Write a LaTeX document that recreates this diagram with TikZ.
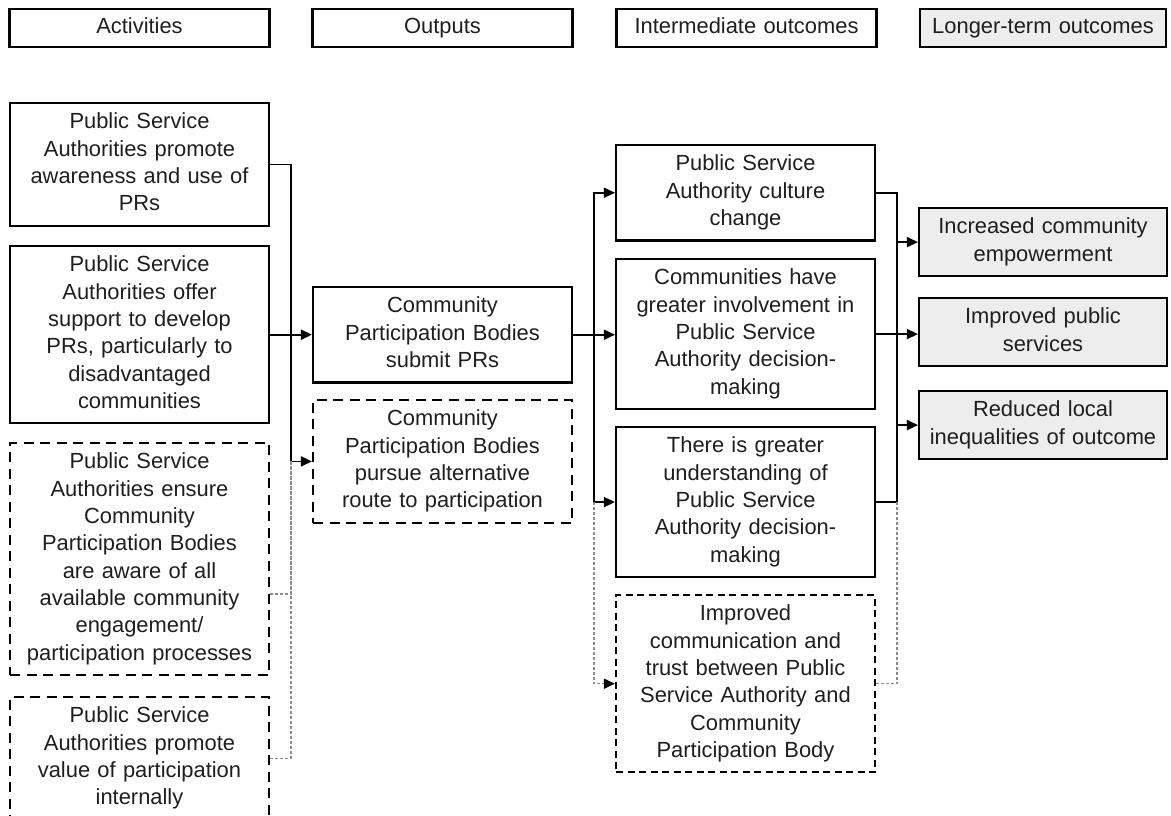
\documentclass[tikz,border=0pt]{standalone}
\usepackage{fontspec}
\setmainfont{Liberation Sans}
\usetikzlibrary{arrows.meta}
\definecolor{lgray}{HTML}{EDEDED}
\definecolor{dgray}{HTML}{8C8C8C}
\definecolor{txt}{HTML}{1E1E1E}
\tikzset{
  base/.style={draw=black, line width=2.1pt, anchor=north, align=center, text=txt,
    font=\fontsize{21.9pt}{27.3pt}\selectfont, inner xsep=4pt, inner ysep=6.75pt,
    execute at begin node=\strut, execute at end node=\strut},
  colbox/.style={base, text width=251pt},
  dbox/.style={colbox, dash pattern=on 10pt off 6.5pt},
  ibox/.style={colbox, dash pattern=on 7pt off 4.5pt},
  lbox/.style={base, text width=240pt, fill=lgray},
  hbox/.style={base, text width=252pt, inner ysep=5.35pt},
  conn/.style={draw=black, line width=1.8pt},
  arr/.style={conn, -{Triangle[length=11pt,width=10pt]}},
  gconn/.style={draw=dgray, line width=1.4pt, dash pattern=on 3pt off 2pt},
  garr/.style={gconn, -{Triangle[length=11pt,width=10pt,color=black]}}
}
\begin{document}
\begin{tikzpicture}[x=1pt,y=-1pt]
\useasboundingbox (0,0) rectangle (1171,816);
\clip (0,0) rectangle (1171,816);
% headers
\node[hbox] (hA) at (139.5,8) {Activities};
\node[hbox] (hO) at (442.5,8) {Outputs};
\node[hbox] (hI) at (746.5,8) {Intermediate outcomes};
\node[hbox, text width=238pt, fill=lgray] (hL) at (1043,8) {Longer-term outcomes};
% activities
\node[colbox] (A1) at (139.5,102) {Public Service\\Authorities promote\\awareness and use of\\PRs};
\node[colbox] (A2) at (139.5,245) {Public Service\\Authorities offer\\support to develop\\PRs, particularly to\\disadvantaged\\communities};
\node[dbox] (A3) at (139.5,442) {Public Service\\Authorities ensure\\Community\\Participation Bodies\\are aware of all\\available community\\engagement/\\participation processes};
\node[dbox] (A4) at (139.5,696) {Public Service\\Authorities promote\\value of participation\\internally};
% outputs
\node[colbox] (O1) at (442.5,286) {Community\\Participation Bodies\\submit PRs};
\node[dbox] (O2) at (442.5,399) {Community\\Participation Bodies\\pursue alternative\\route to participation};
% intermediate outcomes
\node[colbox] (I1) at (745.5,144) {Public Service\\Authority culture\\change};
\node[colbox] (I2) at (745.5,258) {Communities have\\greater involvement in\\Public Service\\Authority decision-\\making};
\node[colbox] (I3) at (745.5,426) {There is greater\\understanding of\\Public Service\\Authority decision-\\making};
\node[ibox] (I4) at (745.5,594) {Improved\\communication and\\trust between Public\\Service Authority and\\Community\\Participation Body};
% longer-term outcomes
\node[lbox] (L1) at (1043,207) {Increased community\\empowerment};
\node[lbox] (L2) at (1043,297) {Improved public\\services};
\node[lbox] (L3) at (1043,390) {Reduced local\\inequalities of outcome};
% spines
\coordinate (sA) at (291,0);
\coordinate (sI) at (594,0);
\coordinate (sL) at (897,0);
% activities -> outputs
\draw[arr] (A1.east) -| (sA |- O2.west) -- (O2.west);
\draw[arr] (A2.east) -- (A2.east -| O1.west);
\draw[gconn] (A3.east |- 0,594) -| (sA |- O2.west);
\draw[gconn] (A4.east) -| (sA |- O2.west);
% outputs -> intermediate
\draw[arr] (O1.east) -- (O1.east -| I2.west);
\draw[arr] (O1.east -| sI) |- (I1.west);
\draw[arr] (O1.east -| sI) |- (I3.west);
\draw[garr] (sI |- I3.west) |- (I4.west);
% intermediate -> longer-term
\draw[conn] (I1.east) -| (sL |- I3.east) -- (I3.east);
\draw[arr] (I2.east) -- (I2.east -| L2.west);
\draw[arr] (sL |- L1.west) -- (L1.west);
\draw[arr] (sL |- L3.west) -- (L3.west);
\draw[gconn] (I4.east) -| (sL |- I3.east);
\end{tikzpicture}
\end{document}
